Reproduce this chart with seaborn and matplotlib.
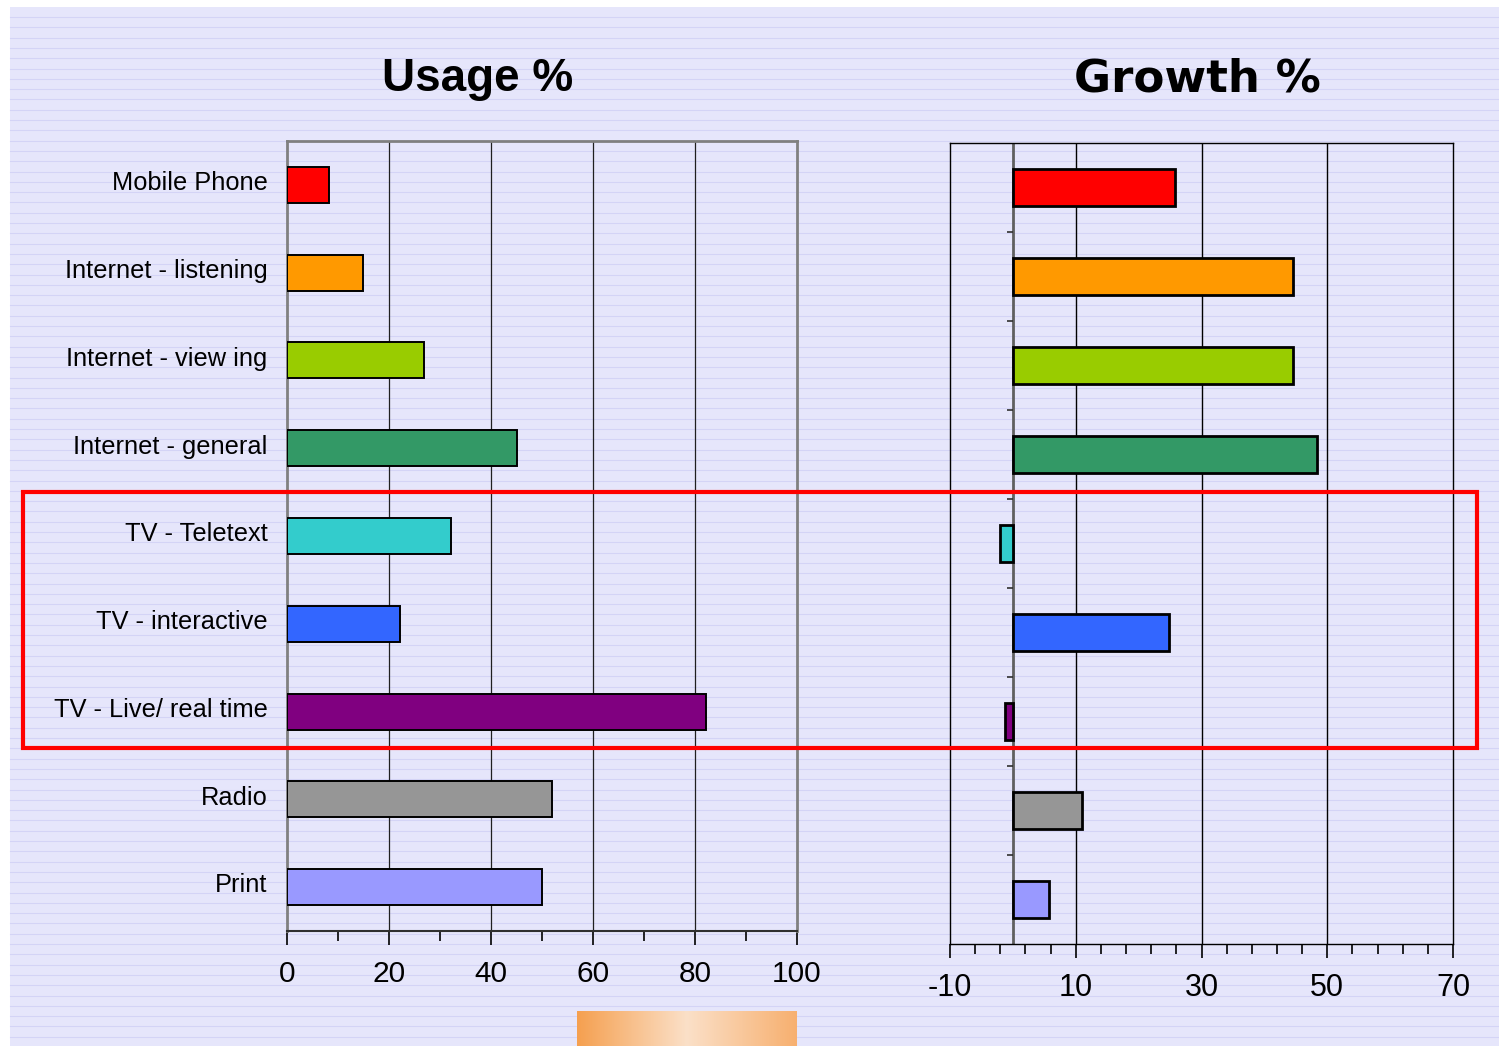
import numpy as np
import pandas as pd
import matplotlib
matplotlib.use("Agg")
import matplotlib.pyplot as plt
import matplotlib.transforms as mtransforms
from matplotlib.patches import Rectangle
from matplotlib.lines import Line2D
from matplotlib.colors import LinearSegmentedColormap
import seaborn as sns

plt.rcParams['font.family'] = ['Liberation Sans', 'DejaVu Sans']

categories = ["Mobile Phone", "Internet - listening", "Internet - view ing",
              "Internet - general", "TV - Teletext", "TV - interactive",
              "TV - Live/ real time", "Radio", "Print"]
usage = [8.2, 14.9, 26.9, 45.1, 32.2, 22.2, 82.2, 52.0, 50.0]
growth = [25.8, 44.6, 44.6, 48.3, -2.1, 24.9, -1.3, 11.0, 5.8]
colors = ["#FF0000", "#FF9900", "#99CC00", "#339966", "#33CCCC",
          "#3366FF", "#800080", "#969696", "#9999FF"]
usage_ticks = [0, 20, 40, 60, 80, 100]
growth_ticks = [-10, 10, 30, 50, 70]

df = pd.DataFrame({"cat": categories, "usage": usage, "growth": growth})
pal = dict(zip(categories, colors))

W, H = 1499, 1046
fig = plt.figure(figsize=(W / 100, H / 100), dpi=100)
fig.patch.set_facecolor("white")

# slide background
fig.add_artist(Rectangle((10 / W, 0), 1 - 10 / W, 1 - 7 / H, transform=fig.transFigure,
                         facecolor="#E6E6FB", edgecolor="none", zorder=-10))
for yy in np.arange(17, H, 10.3):
    fig.add_artist(Line2D([10 / W, 1], [1 - yy / H] * 2, transform=fig.transFigure,
                          color="#D4D4F6", lw=0.8, zorder=-9))

# ---- Usage panel
ax1 = fig.add_axes([287 / W, 1 - 931 / H, 510 / W, 790 / H])
ax1.set_facecolor("none")
sns.barplot(data=df, x="usage", y="cat", hue="cat", palette=pal, legend=False,
            orient="h", width=0.41, edgecolor="black", linewidth=1.4, saturation=1,
            ax=ax1, zorder=3)
ax1.set_xlim(0, 100)
ax1.set_ylim(8.5, -0.5)
ax1.set_xticks(usage_ticks)
ax1.set_xticks(np.arange(0, 101, 10), minor=True)
ax1.set_xticklabels([str(t) for t in usage_ticks], fontsize=21.5)
ax1.tick_params(axis="x", which="major", direction="out", length=10, width=1.2, pad=11)
ax1.tick_params(axis="x", which="minor", direction="out", length=7, width=1.2)
ax1.tick_params(axis="y", length=0, pad=14, labelsize=18.3)
shift = mtransforms.ScaledTranslation(0, 3 / 72, fig.dpi_scale_trans)
for lab in ax1.get_yticklabels():
    lab.set_transform(lab.get_transform() + shift)
ax1.set_xlabel("")
ax1.set_ylabel("")
for t in [20, 40, 60, 80]:
    ax1.axvline(t, color="#202020", lw=0.9, zorder=1)
for s in ["left", "right", "top"]:
    ax1.spines[s].set_color("#808080")
    ax1.spines[s].set_linewidth(2)
ax1.spines["bottom"].set_color("#303030")
ax1.spines["bottom"].set_linewidth(1.5)

# ---- Growth panel
ax2 = fig.add_axes([950 / W, 1 - 944 / H, 503 / W, 801 / H])
ax2.set_facecolor("none")
sns.barplot(data=df, x="growth", y="cat", hue="cat", palette=pal, legend=False,
            orient="h", width=0.41, edgecolor="black", linewidth=2, saturation=1,
            ax=ax2, zorder=3)
ax2.set_xlim(-10, 70)
ax2.set_ylim(8.5, -0.5)
ax2.set_xticks(growth_ticks)
ax2.set_xticks(np.arange(-10, 71, 4), minor=True)
ax2.set_xticklabels([str(t) for t in growth_ticks], fontsize=22)
ax2.tick_params(axis="x", which="major", direction="out", length=10, width=1.2, pad=11)
ax2.tick_params(axis="x", which="minor", direction="out", length=7, width=1.2)
ax2.set_yticks([])
ax2.set_xlabel("")
ax2.set_ylabel("")
for t in [10, 30, 50]:
    ax2.axvline(t, color="black", lw=1, zorder=1)
ax2.axvline(0, color="#606060", lw=2, zorder=2)
bounds = np.arange(0.5, 8, 1.0)
ax2.hlines(bounds, -1.0, 0, color="#303030", lw=1.2, zorder=2)
for s in ax2.spines.values():
    s.set_color("black")
    s.set_linewidth(1)

# titles
fig.text(478 / W, 1 - 79 / H, "Usage %", ha="center", va="center",
         fontsize=33, fontweight="bold")
fig.text(1197 / W, 1 - 79 / H, "Growth %", ha="center", va="center",
         fontsize=32.5, fontweight="bold", family=["DejaVu Sans"])

# highlight box
fig.add_artist(Rectangle((23 / W, 1 - 748 / H), (1477 - 23) / W, (748 - 492) / H,
                         transform=fig.transFigure, facecolor="none",
                         edgecolor="#FF0000", lw=3, zorder=20))

# logo strip
axl = fig.add_axes([577 / W, 0, 220 / W, 35 / H])
cmap = LinearSegmentedColormap.from_list("og", ["#F5A050", "#FBE0C8", "#F7B070"])
grad = np.tile(np.linspace(0, 1, 200), (20, 1))
axl.imshow(grad, aspect="auto", cmap=cmap)
axl.axis("off")

fig.savefig("out.png", dpi=100, facecolor=fig.get_facecolor())
